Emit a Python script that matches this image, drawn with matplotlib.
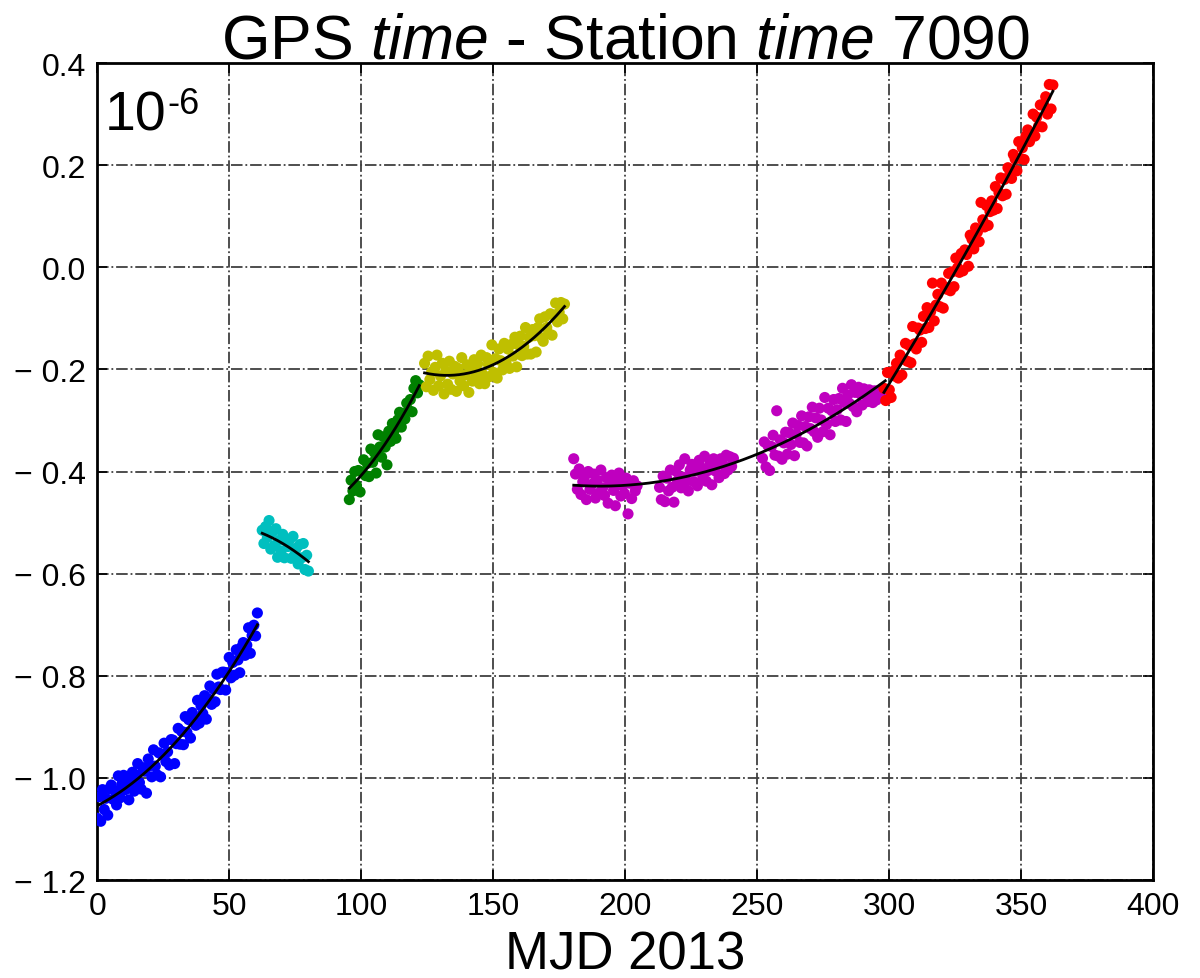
import numpy as np
import matplotlib
matplotlib.use("Agg")
import matplotlib.pyplot as plt

# -----------------------------
# Data: GPS time - station time offsets (units of 1e-6)
# -----------------------------
blue_start, blue_end = 0.0, 60.67
blue_y = [-1.079, -1.037, -1.085, -1.023, -1.062, -1.040, -1.073, -1.021, -1.014, -1.042,
          -1.025, -1.053, -0.996, -1.039, -1.012, -0.995, -1.023, -1.000, -1.043, -1.011,
          -0.989, -1.026, -0.994, -0.972, -1.009, -1.022, -0.980, -0.987, -1.030, -0.963,
          -0.976, -0.998, -0.945, -0.977, -0.994, -0.951, -0.998, -0.955, -0.932, -0.968,
          -0.949, -0.975, -0.925, -0.926, -0.972, -0.933, -0.903, -0.934, -0.909, -0.935,
          -0.880, -0.911, -0.886, -0.922, -0.872, -0.882, -0.897, -0.848, -0.893, -0.859,
          -0.874, -0.839, -0.885, -0.845, -0.820, -0.856, -0.826, -0.851, -0.797, -0.822,
          -0.827, -0.793, -0.793, -0.828, -0.794, -0.764, -0.804, -0.774, -0.799, -0.749,
          -0.769, -0.794, -0.744, -0.735, -0.760, -0.740, -0.706, -0.756, -0.721, -0.701,
          -0.722, -0.677]

cyan_start, cyan_end = 62.5, 80.0
cyan_y = [-0.515, -0.541, -0.508, -0.529, -0.496, -0.552, -0.519, -0.545, -0.512, -0.568,
          -0.535, -0.556, -0.523, -0.569, -0.536, -0.547, -0.534, -0.570, -0.527, -0.563,
          -0.550, -0.581, -0.543, -0.569, -0.541, -0.592, -0.564, -0.595]

green_start, green_end = 95.5, 122.0
green_y = [-0.455, -0.417, -0.438, -0.400, -0.427, -0.398, -0.440, -0.401, -0.377, -0.408,
           -0.384, -0.410, -0.356, -0.382, -0.363, -0.403, -0.328, -0.352, -0.372, -0.332,
           -0.352, -0.387, -0.321, -0.341, -0.306, -0.320, -0.335, -0.299, -0.284, -0.313,
           -0.287, -0.297, -0.266, -0.280, -0.259, -0.283, -0.237, -0.222, -0.246, -0.230]

yellow_start, yellow_end = 124.0, 177.0
yellow_y = [-0.188, -0.234, -0.174, -0.220, -0.205, -0.241, -0.196, -0.172, -0.232, -0.213,
            -0.188, -0.248, -0.203, -0.229, -0.184, -0.239, -0.209, -0.194, -0.243, -0.198,
            -0.223, -0.177, -0.232, -0.211, -0.191, -0.245, -0.199, -0.223, -0.181, -0.210,
            -0.189, -0.228, -0.172, -0.210, -0.228, -0.177, -0.190, -0.214, -0.152, -0.206,
            -0.179, -0.217, -0.160, -0.183, -0.201, -0.149, -0.187, -0.160, -0.198, -0.151,
            -0.174, -0.137, -0.195, -0.152, -0.135, -0.173, -0.155, -0.118, -0.170, -0.137,
            -0.170, -0.122, -0.134, -0.166, -0.118, -0.101, -0.138, -0.145, -0.097, -0.118,
            -0.130, -0.091, -0.133, -0.094, -0.070, -0.107, -0.088, -0.069, -0.101, -0.072]

# magenta comes in three chunks but is fitted as one segment
mag1_start, mag1_end = 180.5, 204.5
mag1_y = [-0.375, -0.405, -0.435, -0.395, -0.445, -0.420, -0.410, -0.455, -0.400, -0.435,
          -0.425, -0.405, -0.452, -0.417, -0.442, -0.397, -0.432, -0.447, -0.412, -0.462,
          -0.422, -0.407, -0.437, -0.467, -0.418, -0.403, -0.448, -0.428, -0.443, -0.413,
          -0.483, -0.423, -0.453, -0.418, -0.438, -0.428]

mag2_start, mag2_end = 213.0, 241.0
mag2_y = [-0.431, -0.455, -0.409, -0.459, -0.413, -0.438, -0.397, -0.431, -0.460, -0.399,
          -0.418, -0.387, -0.432, -0.411, -0.375, -0.419, -0.438, -0.397, -0.386, -0.420,
          -0.399, -0.428, -0.378, -0.392, -0.411, -0.370, -0.419, -0.398, -0.382, -0.426,
          -0.375, -0.399, -0.383, -0.412, -0.375, -0.385, -0.404, -0.368, -0.397, -0.371,
          -0.390, -0.374]

mag3_start, mag3_end = 252.0, 298.5
mag3_y = [-0.374, -0.342, -0.391, -0.349, -0.398, -0.351, -0.329, -0.368, -0.281, -0.370,
          -0.338, -0.376, -0.344, -0.323, -0.366, -0.324, -0.347, -0.305, -0.369, -0.327,
          -0.310, -0.343, -0.291, -0.344, -0.312, -0.350, -0.293, -0.316, -0.274, -0.322,
          -0.295, -0.333, -0.276, -0.299, -0.322, -0.255, -0.308, -0.276, -0.328, -0.281,
          -0.259, -0.302, -0.279, -0.257, -0.299, -0.237, -0.265, -0.302, -0.250, -0.267,
          -0.230, -0.273, -0.245, -0.283, -0.235, -0.248, -0.270, -0.238, -0.250, -0.263,
          -0.240, -0.252, -0.265, -0.242, -0.260, -0.242, -0.249, -0.241, -0.254, -0.241]

red_start, red_end = 298.0, 362.0
red_y = [-0.237, -0.261, -0.206, -0.240, -0.255, -0.204, -0.213, -0.188, -0.217, -0.172,
         -0.211, -0.180, -0.149, -0.184, -0.153, -0.187, -0.116, -0.150, -0.160, -0.119,
         -0.123, -0.147, -0.096, -0.120, -0.079, -0.118, -0.087, -0.031, -0.105, -0.074,
         -0.053, -0.077, -0.031, -0.080, -0.039, -0.043, -0.012, -0.046, -0.009, -0.038,
         0.018, -0.001, -0.010, 0.027, -0.007, 0.034, 0.025, 0.002, 0.063, 0.055,
         0.036, 0.077, 0.069, 0.050, 0.127, 0.093, 0.079, 0.121, 0.082, 0.109,
         0.130, 0.112, 0.158, 0.115, 0.146, 0.175, 0.140, 0.172, 0.143, 0.195,
         0.182, 0.174, 0.221, 0.212, 0.189, 0.246, 0.213, 0.234, 0.211, 0.257,
         0.269, 0.246, 0.263, 0.300, 0.257, 0.294, 0.276, 0.318, 0.275, 0.317,
         0.334, 0.300, 0.358, 0.310, 0.357]

xticks = [0, 50, 100, 150, 200, 250, 300, 350, 400]
yticks = [-1.2, -1.0, -0.8, -0.6, -0.4, -0.2, 0.0, 0.2, 0.4]
ytick_labels = ["\u2212 1.2", "\u2212 1.0", "\u2212 0.8", "\u2212 0.6", "\u2212 0.4",
                "\u2212 0.2", "0.0", "0.2", "0.4"]

# -----------------------------
# Style
# -----------------------------
plt.rcParams["font.family"] = ["Liberation Sans", "DejaVu Sans"]
plt.rcParams["mathtext.fontset"] = "custom"
plt.rcParams["mathtext.rm"] = "Liberation Sans"
plt.rcParams["mathtext.it"] = "Liberation Sans:italic"


def xs(start, end, ys):
    return np.linspace(start, end, len(ys))


fig = plt.figure(figsize=(12, 9.79), dpi=100)
ax = fig.add_axes([0.081, 0.1001, 0.8800, 0.8345])

segments = [
    ([(blue_start, blue_end, blue_y)], "#0000ff", 3),
    ([(cyan_start, cyan_end, cyan_y)], "#00bfbf", 2),
    ([(green_start, green_end, green_y)], "#008000", 2),
    ([(yellow_start, yellow_end, yellow_y)], "#bfbf00", 2),
    ([(mag1_start, mag1_end, mag1_y), (mag2_start, mag2_end, mag2_y),
      (mag3_start, mag3_end, mag3_y)], "#bf00bf", 2),
    ([(red_start, red_end, red_y)], "#ff0000", 2),
]

for parts, color, deg in segments:
    all_x, all_y = [], []
    for s, e, ys in parts:
        x = xs(s, e, ys)
        ax.scatter(x, ys, s=64, color=color, edgecolors="none", zorder=3)
        all_x.append(x)
        all_y.append(np.asarray(ys))
    all_x = np.concatenate(all_x)
    all_y = np.concatenate(all_y)
    coef = np.polyfit(all_x, all_y, deg)
    xf = np.linspace(all_x.min(), all_x.max(), 200)
    ax.plot(xf, np.polyval(coef, xf), color="k", lw=2, zorder=4)

ax.set_xlim(0, 400)
ax.set_ylim(-1.2, 0.4)
ax.set_xticks(xticks)
ax.set_yticks(yticks)
ax.set_yticklabels(ytick_labels)
ax.tick_params(direction="in", length=7, width=1.2, labelsize=23, pad=8,
               top=True, right=True)
ax.grid(True, color="0.25", linestyle="-.", linewidth=1.3)
for sp in ax.spines.values():
    sp.set_linewidth(2)

ax.set_title("GPS $time$ - Station $time$ 7090", fontsize=45, pad=4)
ax.set_xlabel("MJD 2013", fontsize=38, labelpad=6)

# exponent marker in the top-left corner
t10 = ax.text(0.007, 0.967, "10", transform=ax.transAxes, fontsize=40,
              ha="left", va="top")
ax.annotate("-6", xy=(1, 1), xycoords=t10, xytext=(1, 3), textcoords="offset points",
            fontsize=26, ha="left", va="top")

fig.savefig("out.png", dpi=100, facecolor="white")
